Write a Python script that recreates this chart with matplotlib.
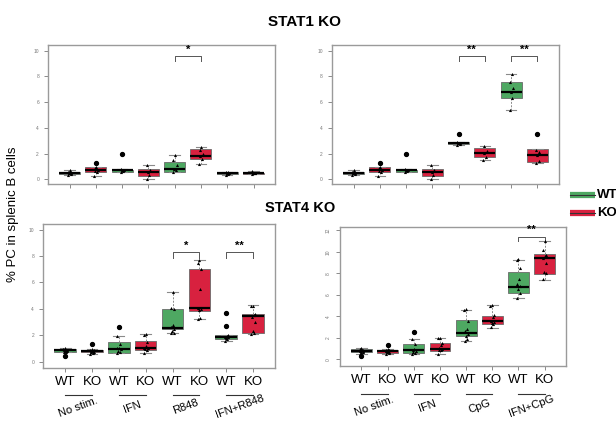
"""Plasma cell boxplots, STAT1 KO / STAT4 KO."""
import matplotlib
matplotlib.use('Agg')
import matplotlib.pyplot as plt
from matplotlib.lines import Line2D

plt.rcParams['font.family'] = ['Liberation Sans', 'DejaVu Sans']

GREEN = '#4ea862'
RED = '#d8213f'
GRAY = '#8a8a8a'

GENOTYPES = ['WT', 'KO']
TOP_STIM_L = ['No stim.', 'IFN', 'R848', 'IFN+R848']
TOP_STIM_R = ['No stim.', 'IFN', 'CpG', 'IFN+CpG']

# ---- STAT1 KO, left (R848) ----
s1l_q1 = [0.38, 0.55, 0.60, 0.26, 0.60, 1.55, 0.38, 0.42]
s1l_med = [0.47, 0.70, 0.68, 0.55, 0.80, 1.80, 0.47, 0.47]
s1l_q3 = [0.60, 0.92, 0.75, 0.78, 1.32, 2.36, 0.55, 0.52]
s1l_lo = [0.30, 0.28, 0.58, 0.00, 0.60, 1.15, 0.33, 0.40]
s1l_hi = [0.75, 0.95, 0.80, 1.10, 1.90, 2.52, 0.58, 0.62]
s1l_out = [[], [1.3], [2.0], [], [], [], [], []]
s1l_pts = [[0.30, 0.38, 0.45, 0.50, 0.58, 0.75],
           [0.28, 0.55, 0.65, 0.72, 0.90, 0.95],
           [0.58, 0.62, 0.68, 0.72, 0.80],
           [0.00, 0.30, 0.55, 0.70, 1.10],
           [0.60, 0.75, 0.80, 1.10, 1.50, 1.90],
           [1.15, 1.60, 1.80, 2.00, 2.30, 2.50],
           [0.33, 0.40, 0.45, 0.50, 0.55, 0.58],
           [0.40, 0.45, 0.48, 0.50, 0.65]]

# ---- STAT1 KO, right (CpG) ----
s1r_q1 = [0.38, 0.55, 0.60, 0.26, 2.75, 1.71, 6.35, 1.37]
s1r_med = [0.47, 0.70, 0.68, 0.55, 2.80, 2.07, 6.79, 1.87]
s1r_q3 = [0.60, 0.92, 0.75, 0.78, 2.93, 2.41, 7.59, 2.33]
s1r_lo = [0.30, 0.28, 0.58, 0.00, 2.70, 1.50, 5.39, 1.29]
s1r_hi = [0.75, 0.95, 0.80, 1.10, 2.90, 2.59, 8.19, 2.33]
s1r_out = [[], [1.3], [2.0], [], [3.55], [], [], [3.55]]
s1r_pts = [[0.30, 0.38, 0.45, 0.50, 0.58, 0.75],
           [0.28, 0.55, 0.65, 0.72, 0.90, 0.95],
           [0.58, 0.62, 0.68, 0.72, 0.80],
           [0.00, 0.30, 0.55, 0.70, 1.10],
           [2.70, 2.75, 2.80, 2.85, 2.90],
           [1.50, 1.75, 2.05, 2.20, 2.55],
           [5.35, 6.35, 6.80, 7.10, 7.55, 8.15],
           [1.30, 1.40, 1.85, 2.10, 2.25]]

# ---- STAT4 KO, left (R848) ----
s4l_q1 = [0.73, 0.71, 0.66, 0.91, 2.50, 3.86, 1.74, 2.17]
s4l_med = [0.85, 0.78, 0.98, 1.04, 2.55, 4.07, 1.88, 3.43]
s4l_q3 = [0.98, 0.86, 1.46, 1.54, 4.02, 7.02, 2.00, 3.61]
s4l_lo = [0.70, 0.60, 0.65, 0.65, 2.15, 3.20, 1.54, 2.10]
s4l_hi = [1.00, 0.95, 1.95, 2.10, 5.25, 7.68, 2.00, 4.27]
s4l_out = [[0.4], [1.35], [2.6], [], [], [], [2.7, 3.7], []]
s4l_pts = [[0.70, 0.75, 0.80, 0.82, 0.85, 0.88, 0.90, 0.95, 1.00],
           [0.60, 0.68, 0.72, 0.75, 0.78, 0.80, 0.85, 0.90, 0.95],
           [0.65, 0.70, 0.80, 0.95, 1.00, 1.05, 1.30, 1.95],
           [0.65, 0.90, 0.95, 1.00, 1.05, 1.20, 1.50, 2.00, 2.10],
           [2.15, 2.20, 2.30, 2.50, 2.60, 2.80, 4.00, 4.05, 5.25],
           [3.20, 3.30, 3.90, 4.00, 4.10, 5.50, 7.00, 7.50, 7.70],
           [1.60, 1.70, 1.80, 1.85, 1.90, 1.95, 2.00],
           [2.10, 2.20, 2.30, 3.00, 3.40, 3.50, 3.60, 4.20, 4.25]]

# ---- STAT4 KO, right (CpG) ----
s4r_q1 = [0.65, 0.59, 0.56, 0.80, 2.17, 3.25, 6.22, 7.98]
s4r_med = [0.80, 0.75, 0.87, 1.02, 2.47, 3.56, 6.77, 9.43]
s4r_q3 = [1.02, 0.87, 1.42, 1.55, 3.65, 4.05, 8.10, 9.77]
s4r_lo = [0.55, 0.50, 0.50, 0.55, 1.76, 2.97, 5.69, 7.40]
s4r_hi = [1.05, 0.95, 1.89, 2.01, 4.64, 5.04, 9.28, 10.98]
s4r_out = [[0.35], [1.35], [2.55], [], [], [], [], []]
s4r_pts = [[0.55, 0.65, 0.70, 0.75, 0.80, 0.85, 0.90, 1.00, 1.05],
           [0.50, 0.60, 0.65, 0.70, 0.75, 0.80, 0.85, 0.90, 0.95],
           [0.50, 0.60, 0.70, 0.80, 0.90, 1.00, 1.40, 1.90],
           [0.55, 0.85, 0.90, 1.00, 1.10, 1.30, 1.50, 1.95, 2.00],
           [1.75, 1.90, 2.20, 2.40, 2.60, 2.80, 3.60, 4.60, 4.70],
           [3.00, 3.25, 3.40, 3.50, 3.60, 3.90, 4.10, 5.00, 5.10],
           [5.75, 6.20, 6.50, 6.80, 7.00, 7.50, 8.50, 9.20, 9.30],
           [7.50, 8.00, 8.10, 9.00, 9.40, 9.60, 9.70, 10.20, 11.00]]

# significance: (left box, right box, bracket top, tip bottom, label)
s1l_sig = [(5, 6, 9.55, 9.2, '*')]
s1r_sig = [(5, 6, 9.55, 9.2, '**'), (7, 8, 9.55, 9.2, '**')]
s4l_sig = [(5, 6, 8.3, 7.85, '*'), (7, 8, 8.3, 7.85, '**')]
s4r_sig = [(7, 8, 11.38, 10.98, '**')]

JIT = [-0.06, 0.04, -0.02, 0.07, -0.05, 0.02, 0.06, -0.07, 0.0, 0.03]


def draw_panel(ax, q1, med, q3, lo, hi, outs, pts, sigs, ylim, yticks):
    stats = []
    for i in range(8):
        stats.append(dict(q1=q1[i], med=med[i], q3=q3[i], whislo=lo[i],
                          whishi=hi[i], fliers=outs[i]))
    pos = list(range(1, 9))
    bp = ax.bxp(stats, positions=pos, widths=0.8, patch_artist=True,
                showfliers=True,
                boxprops=dict(edgecolor='#6a6a6a', linewidth=0.6),
                whiskerprops=dict(color=GRAY, linestyle=(0, (2, 1.5)), linewidth=0.7),
                capprops=dict(color=GRAY, linewidth=0.8),
                medianprops=dict(color='black', linewidth=1.6),
                flierprops=dict(marker='o', markerfacecolor='black',
                                markeredgecolor='black', markersize=2.8))
    for i, box in enumerate(bp['boxes']):
        box.set_facecolor(GREEN if i % 2 == 0 else RED)
    for cap in bp['caps']:
        x = cap.get_xdata()
        c = (x[0] + x[1]) / 2
        cap.set_xdata([c - 0.2, c + 0.2])
    for i, p in enumerate(pts):
        xs = [pos[i] + JIT[k % len(JIT)] for k in range(len(p))]
        ax.scatter(xs, p, s=5, color='black', marker='^', zorder=4, linewidths=0)
    for a, b, top, tip, lab in sigs:
        ax.plot([a, a, b, b], [tip, top, top, tip], color='#555555', lw=0.7)
        ax.text((a + b) / 2, top + 0.12 * (ylim[1] - ylim[0]) / 10, lab,
                ha='center', va='bottom', fontsize=8, fontweight='bold')
    ax.set_xlim(0.18, 8.82)
    ax.set_ylim(*ylim)
    ax.set_yticks(yticks)
    ax.set_xticks(pos)
    for sp in ax.spines.values():
        sp.set_color('#9a9a9a')
        sp.set_linewidth(1.0)
    ax.tick_params(axis='both', colors='#777777', length=3, width=0.6,
                   labelsize=3.5)


fig = plt.figure(figsize=(6.16, 4.21), dpi=100)
ax1 = fig.add_axes([0.078, 0.563, 0.3685, 0.330])
ax2 = fig.add_axes([0.539, 0.563, 0.3685, 0.330])
ax3 = fig.add_axes([0.070, 0.126, 0.3766, 0.342])
ax4 = fig.add_axes([0.552, 0.131, 0.3670, 0.330])

draw_panel(ax1, s1l_q1, s1l_med, s1l_q3, s1l_lo, s1l_hi, s1l_out, s1l_pts,
           s1l_sig, (-0.37, 10.44), range(0, 11, 2))
draw_panel(ax2, s1r_q1, s1r_med, s1r_q3, s1r_lo, s1r_hi, s1r_out, s1r_pts,
           s1r_sig, (-0.37, 10.44), range(0, 11, 2))
draw_panel(ax3, s4l_q1, s4l_med, s4l_q3, s4l_lo, s4l_hi, s4l_out, s4l_pts,
           s4l_sig, (-0.48, 10.43), range(0, 11, 2))
draw_panel(ax4, s4r_q1, s4r_med, s4r_q3, s4r_lo, s4r_hi, s4r_out, s4r_pts,
           s4r_sig, (-0.59, 12.31), range(0, 13, 2))

for ax in (ax1, ax2):
    ax.set_xticklabels([])
for ax in (ax3, ax4):
    ax.set_xticklabels(GENOTYPES * 4, fontsize=9.5, color='black')
    ax.tick_params(axis='x', labelsize=9.5, labelcolor='black', pad=3)
for lab in ax4.get_yticklabels():
    lab.set_rotation(90)
    lab.set_va('center')

# group underlines and rotated stimulation labels
for ax, names, yl, yt in ((ax3, TOP_STIM_L, -0.185, -0.27),
                          (ax4, TOP_STIM_R, -0.20, -0.29)):
    tr = ax.get_xaxis_transform()
    for g, name in enumerate(names):
        a, b = 2 * g + 1, 2 * g + 2
        ax.plot([a, b], [yl, yl], color='#333333', lw=0.8, transform=tr,
                clip_on=False)
        ax.text((a + b) / 2, yt, name, transform=tr, rotation=20,
                ha='center', va='center', fontsize=8)

fig.text(0.495, 0.948, 'STAT1 KO', ha='center', va='center', fontsize=11,
         fontweight='bold')
fig.text(0.487, 0.506, 'STAT4 KO', ha='center', va='center', fontsize=10.5,
         fontweight='bold')
fig.text(0.021, 0.492, '% PC in splenic B cells', rotation=90, ha='center',
         va='center', fontsize=9.5)

# legend: small box glyphs
for y, col, name in ((0.537, GREEN, 'WT'), (0.494, RED, 'KO')):
    fig.add_artist(Line2D([0.925, 0.966], [y, y], color=col, lw=4.5,
                          solid_capstyle='butt'))
    fig.add_artist(Line2D([0.925, 0.966], [y, y], color='#333333', lw=0.8))
    fig.text(0.969, y, name, ha='left', va='center', fontsize=9.5,
             fontweight='bold')

fig.savefig('out.png', dpi=100)
